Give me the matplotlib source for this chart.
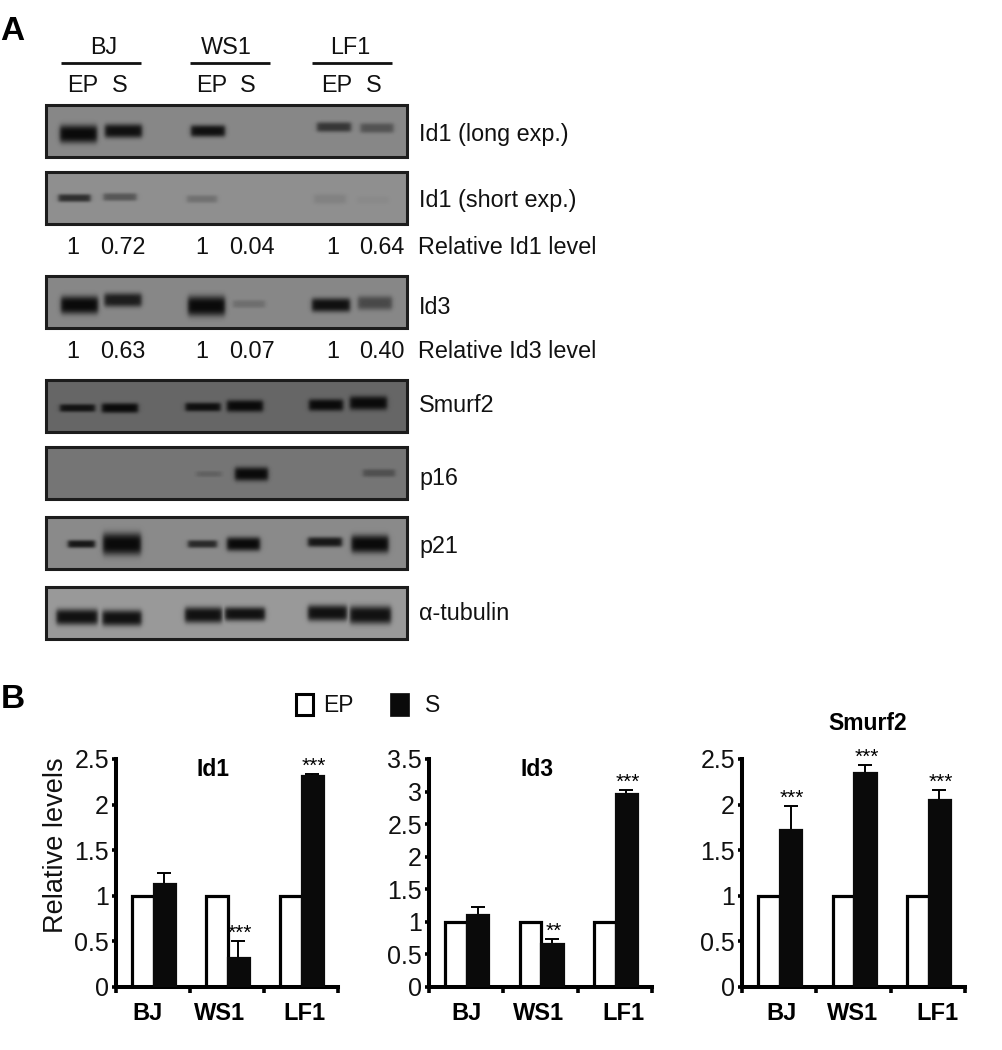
import numpy as np
import matplotlib
matplotlib.use("Agg")
import matplotlib.pyplot as plt
from matplotlib.patches import Rectangle

plt.rcParams['font.family'] = ['Liberation Sans', 'DejaVu Sans']

# panel A data
cell_lines = ['BJ', 'WS1', 'LF1']
blot_names = ['Id1 (long exp.)', 'Id1 (short exp.)', 'Id3', 'Smurf2', 'p16', 'p21', 'α-tubulin']
id1_levels = ['1', '0.72', '1', '0.04', '1', '0.64']
id3_levels = ['1', '0.63', '1', '0.07', '1', '0.40']

# band darkness per lane (BJ EP, BJ S, WS1 EP, WS1 S, LF1 EP, LF1 S)
id1_long = [1.0, 0.95, 0.95, 0.0, 0.65, 0.42]
id1_short = [0.72, 0.42, 0.22, 0.0, 0.10, 0.04]
id3_bands = [1.0, 0.85, 1.0, 0.2, 0.95, 0.5]
smurf2_bands = [0.9, 1.0, 0.95, 1.0, 1.0, 1.0]
p16_bands = [0.0, 0.0, 0.18, 1.0, 0.0, 0.35]
p21_bands = [0.9, 1.0, 0.75, 1.0, 0.9, 1.0]
tubulin_bands = [0.95, 0.95, 0.95, 0.95, 0.95, 0.95]
blot_bands = [id1_long, id1_short, id3_bands, smurf2_bands, p16_bands, p21_bands, tubulin_bands]

# panel B data
id1_ep = [1, 1, 1]
id1_s = [1.13, 0.32, 2.31]
id1_err = [0.12, 0.18, 0.02]
id1_stars = ['', '***', '***']
id3_ep = [1, 1, 1]
id3_s = [1.1, 0.66, 2.96]
id3_err = [0.13, 0.07, 0.06]
id3_stars = ['', '**', '***']
smurf2_ep = [1, 1, 1]
smurf2_s = [1.72, 2.35, 2.05]
smurf2_err = [0.26, 0.08, 0.11]
smurf2_stars = ['***', '***', '***']

# blot layout, pixels
blot_left, blot_right = 46, 407
blot_tops = [105, 172, 276, 380, 447, 517, 587]
blot_label_y = [135, 201, 307, 406, 478, 546, 614]
blot_h = 52
blot_grey = [0.53, 0.56, 0.53, 0.40, 0.46, 0.54, 0.60]
band_x = [[32.5, 77.5, 162, 206, 288, 331], [28.5, 74, 156, 200, 284, 327], [33.5, 77, 160.5, 203, 285, 329],
          [31.5, 74, 157, 199, 280, 322.5], [30, 75, 163, 205.5, 285, 333], [35.5, 76, 156.5, 197.5, 279, 324],
          [31, 76, 157.5, 199, 281.5, 324.5]]
band_w = [[37, 37, 34, 30, 34, 33], [32, 33, 30, 30, 32, 31], [37, 37, 37, 32, 38, 34],
          [35, 36, 35, 36, 34, 37], [30, 30, 25, 33, 30, 32], [27, 38, 29, 33, 34, 37],
          [41, 39, 37, 40, 39, 41]]
band_y = [[29, 26, 26, 26, 22, 23], [26, 25, 27, 27, 27, 28], [29, 24, 30, 28, 29, 27],
          [28, 28, 27, 26, 25, 23], [27, 27, 27, 27, 27, 26], [27, 27, 27, 27, 25, 27],
          [30, 31, 28, 27, 26, 28]]
band_h = [[9, 7, 6, 4, 5, 5], [4, 4, 4, 3, 5, 4], [9, 7, 10, 4, 7, 7],
          [4, 5, 4.5, 6, 6, 7], [4, 3, 3, 7, 3, 4], [4, 11, 4, 7, 5, 9],
          [8, 8, 8, 7, 8, 9]]

fig = plt.figure(figsize=(10.02, 10.5), dpi=100)
page = fig.add_axes([0, 0, 1, 1])
page.set_xlim(0, 1002)
page.set_ylim(1050, 0)
page.axis('off')


def DrawBlot(i):
    top = blot_tops[i]
    xs = np.arange(blot_right - blot_left) + 0.5
    ys = np.arange(blot_h) + 0.5
    X, Y = np.meshgrid(xs, ys)
    dark = np.zeros_like(X)
    for k in range(6):
        fx = 0.5 * (np.tanh((X - band_x[i][k] + band_w[i][k] / 2) / 2.5) - np.tanh((X - band_x[i][k] - band_w[i][k] / 2) / 2.5))
        fy = np.exp(-(np.abs(Y - band_y[i][k]) / band_h[i][k]) ** 3)
        dark = np.maximum(dark, blot_bands[i][k] * fx * fy)
    img = blot_grey[i] * (1 - dark) + 0.04 * dark
    page.imshow(img, cmap='gray', vmin=0, vmax=1, extent=(blot_left, blot_right, top + blot_h, top),
                aspect='auto', interpolation='bilinear', zorder=1)
    page.add_patch(Rectangle((blot_left, top), blot_right - blot_left, blot_h, fill=False, ec='#1c1c1c', lw=2.2, zorder=2))
    page.text(419, blot_label_y[i], blot_names[i], fontsize=16.8, va='center', ha='left', color='#111111')


for i in range(len(blot_tops)):
    DrawBlot(i)
page.set_xlim(0, 1002)
page.set_ylim(1050, 0)

# headers over the blots
group_mid = [104, 226.5, 350]
group_line = [(61, 141.5), (190, 270), (312, 392.5)]
lane_ep = [83, 212, 337]
lane_s = [120, 248, 373.5]
for g in range(3):
    page.text(group_mid[g], 47, cell_lines[g], fontsize=16.8, ha='center', va='center', color='#111111')
    page.plot(group_line[g], [63, 63], color='#111111', lw=2, solid_capstyle='butt')
    page.text(lane_ep[g], 85, 'EP', fontsize=16.8, ha='center', va='center', color='#111111')
    page.text(lane_s[g], 85, 'S', fontsize=16.8, ha='center', va='center', color='#111111')

level_x = [73, 123, 202, 252, 333, 382]
for k in range(6):
    page.text(level_x[k], 247, id1_levels[k], fontsize=16.8, ha='center', va='center', color='#111111')
    page.text(level_x[k], 351, id3_levels[k], fontsize=16.8, ha='center', va='center', color='#111111')
page.text(418, 247, 'Relative Id1 level', fontsize=16.8, va='center', color='#111111')
page.text(418, 351, 'Relative Id3 level', fontsize=16.8, va='center', color='#111111')

page.text(0, 32, 'A', fontsize=24, fontweight='bold', va='center')
page.text(1, 699, 'B', fontsize=24, fontweight='bold', va='center')

# legend
page.add_patch(Rectangle((296, 694), 17, 21, fc='white', ec='black', lw=2.2))
page.text(323, 706, 'EP', fontsize=16.5, va='center', color='#111111')
page.add_patch(Rectangle((390, 693), 19, 23, fc='#0a0a0a', ec='#0a0a0a', lw=0.5))
page.text(425, 706, 'S', fontsize=16.5, va='center', color='#111111')


def PlotBars(left, right, ep, s, err, stars, ymax, yticks, yticklabels, title, title_xy, label_x):
    ax = fig.add_axes([left / 1002, 1 - 986.7 / 1050, (right - left) / 1002, (986.7 - 759) / 1050])
    ax.patch.set_alpha(0)
    centres = np.arange(3) + 0.51
    width = 0.29
    ax.bar(centres - width / 2, ep, width, color='white', edgecolor='black', linewidth=2.3, zorder=2)
    ax.bar(centres + width / 2, s, width, color='#0a0a0a', edgecolor='#0a0a0a', linewidth=2.3, zorder=3)
    ax.errorbar(centres + width / 2, s, yerr=[np.zeros(3), err], fmt='none', ecolor='black',
                elinewidth=1.4, capsize=5, capthick=1.4, zorder=1)
    for k in range(3):
        ax.annotate(stars[k], (centres[k] + width / 2, s[k] + err[k]), xytext=(1, -1), textcoords='offset points',
                    ha='center', va='bottom', fontsize=15, clip_on=False)
    ax.set_xlim(0, 3)
    ax.set_ylim(0, ymax)
    ax.set_yticks(yticks)
    ax.set_yticklabels(yticklabels, fontsize=18, color='#111111')
    ax.set_xticks([0, 1, 2, 3])
    ax.set_xticklabels([])
    ax.set_xticks(label_x, minor=True)
    ax.set_xticklabels(cell_lines, minor=True, fontsize=17, fontweight='bold')
    ax.tick_params(axis='x', which='minor', length=0, pad=11)
    ax.tick_params(axis='x', which='major', length=4, width=2.6)
    ax.tick_params(axis='y', length=3, width=2.6, pad=2)
    ax.spines['top'].set_visible(False)
    ax.spines['right'].set_visible(False)
    ax.spines['left'].set_linewidth(2.9)
    ax.spines['bottom'].set_linewidth(2.9)
    page.text(title_xy[0], title_xy[1], title, fontsize=16.5, fontweight='bold', ha='center', va='center')
    return ax


ax1 = PlotBars(116, 338, id1_ep, id1_s, id1_err, id1_stars, 2.5, [0, 0.5, 1, 1.5, 2, 2.5],
               ['0', '0.5', '1', '1.5', '2', '2.5'], 'Id1', (213, 769), [0.43, 1.40, 2.55])
ax1.set_ylabel('Relative levels', fontsize=19.5, color='#111111')
ax1.yaxis.set_label_coords(-0.212, 0.62)
PlotBars(429, 652, id3_ep, id3_s, id3_err, id3_stars, 3.5, [0, 0.5, 1, 1.5, 2, 2.5, 3, 3.5],
         ['0', '0.5', '1', '1.5', '2', '2.5', '3', '3.5'], 'Id3', (537, 769), [0.50, 1.47, 2.61])
PlotBars(742, 965, smurf2_ep, smurf2_s, smurf2_err, smurf2_stars, 2.5, [0, 0.5, 1, 1.5, 2, 2.5],
         ['0', '0.5', '1', '1.5', '2', '2.5'], 'Smurf2', (868, 723), [0.53, 1.49, 2.63])

fig.savefig('out.png', dpi=100)
